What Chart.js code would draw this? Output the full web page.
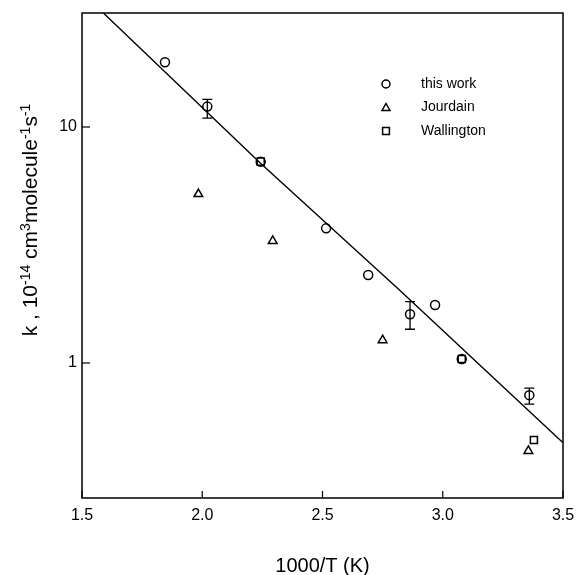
<!DOCTYPE html>
<html>
<head>
<meta charset="utf-8">
<script src="https://cdn.jsdelivr.net/npm/chart.js@4.4.1/dist/chart.umd.min.js"></script>
<style>
  body { margin: 0; background: #fff; }
  #wrap { width: 577px; height: 575px; }
</style>
</head>
<body>
<div id="wrap"><canvas id="myChart" width="577" height="575"></canvas></div>
<script>
// this work
const workX = [1.845, 2.021, 2.243, 2.515, 2.690, 2.864, 2.968, 3.079, 3.360];
const workK = [18.8, 12.2, 7.13, 3.72, 2.36, 1.61, 1.76, 1.04, 0.731];
const workLo = [null, 10.9, null, null, null, 1.39, null, null, 0.670];
const workHi = [null, 13.1, null, null, null, 1.82, null, null, 0.782];
// Jourdain
const jourX = [1.984, 2.293, 2.750, 3.356];
const jourK = [5.20, 3.29, 1.25, 0.424];
// Wallington
const wallX = [2.243, 3.079, 3.379];
const wallK = [7.13, 1.04, 0.472];
// fitted line
const fitX = [1.59, 2.24, 2.82, 3.50];
const fitK = [30.3, 7.06, 2.04, 0.459];

const xTicks = [1.5, 2.0, 2.5, 3.0, 3.5];
const yTicks = [1, 10];
const legendNames = ['this work', 'Jourdain', 'Wallington'];

const font = "'Liberation Sans', Arial, sans-serif";

function pts(xs, ys) {
    return xs.map((x, i) => ({ x: x, y: ys[i] }));
}

function marker(ctx, style, x, y, r) {
    ctx.beginPath();
    if (style == 'circle') {
        ctx.arc(x, y, r, 0, Math.PI * 2);
    } else if (style == 'triangle') {
        ctx.moveTo(x, y - r);
        ctx.lineTo(x + r, y + r * 0.75);
        ctx.lineTo(x - r, y + r * 0.75);
        ctx.closePath();
    } else {
        ctx.rect(x - r * 0.85, y - r * 0.85, r * 1.7, r * 1.7);
    }
    ctx.stroke();
}

const framePlugin = {
    id: 'frame',
    afterDatasetsDraw(chart) {
        const ctx = chart.ctx;
        const a = chart.chartArea;
        const xs = chart.scales.x;
        const ys = chart.scales.y;
        ctx.save();
        ctx.strokeStyle = '#000';
        ctx.lineWidth = 1.5;
        ctx.strokeRect(a.left, a.top, a.right - a.left, a.bottom - a.top);

        // inward tick marks
        ctx.lineWidth = 1.2;
        xTicks.forEach(v => {
            const px = xs.getPixelForValue(v);
            ctx.beginPath();
            ctx.moveTo(px, a.bottom);
            ctx.lineTo(px, a.bottom - 7);
            ctx.stroke();
        });
        yTicks.forEach(v => {
            const py = ys.getPixelForValue(v);
            ctx.beginPath();
            ctx.moveTo(a.left, py);
            ctx.lineTo(a.left + 8, py);
            ctx.stroke();
        });

        // error bars
        ctx.lineWidth = 1.3;
        workX.forEach((x, i) => {
            if (workLo[i] == null) return;
            const px = xs.getPixelForValue(x);
            const lo = ys.getPixelForValue(workLo[i]);
            const hi = ys.getPixelForValue(workHi[i]);
            ctx.beginPath();
            ctx.moveTo(px, lo);
            ctx.lineTo(px, hi);
            ctx.moveTo(px - 5, lo);
            ctx.lineTo(px + 5, lo);
            ctx.moveTo(px - 5, hi);
            ctx.lineTo(px + 5, hi);
            ctx.stroke();
        });

        // legend
        const styles = ['circle', 'triangle', 'rect'];
        ctx.font = '14px ' + font;
        ctx.fillStyle = '#000';
        ctx.textBaseline = 'middle';
        ctx.lineWidth = 1.5;
        styles.forEach((s, i) => {
            const y = 84 + i * 23.5;
            marker(ctx, s, 386, y, 4);
            ctx.fillText(legendNames[i], 421, y);
        });

        // y axis title with superscripts
        ctx.translate(30, 220);
        ctx.rotate(-Math.PI / 2);
        const parts = [
            ['k , 10', false], ['-14', true], [' cm', false], ['3', true],
            ['molecule', false], ['-1', true], ['s', false], ['-1', true]
        ];
        let w = 0;
        parts.forEach(p => {
            ctx.font = (p[1] ? '14px ' : '21px ') + font;
            w += ctx.measureText(p[0]).width;
        });
        let cx = -w / 2;
        ctx.textBaseline = 'alphabetic';
        parts.forEach(p => {
            ctx.font = (p[1] ? '14px ' : '21px ') + font;
            ctx.fillText(p[0], cx, p[1] ? 0 : 7);
            cx += ctx.measureText(p[0]).width;
        });
        ctx.restore();
    }
};

const ctx = document.getElementById('myChart');

new Chart(ctx, {
    type: 'scatter',
    data: {
        datasets: [
            {
                label: 'fit',
                type: 'line',
                data: pts(fitX, fitK),
                borderColor: '#000',
                borderWidth: 1.4,
                pointRadius: 0,
                fill: false,
                tension: 0,
            },
            {
                label: 'this work',
                data: pts(workX, workK),
                pointStyle: 'circle',
                pointRadius: 4.5,
                borderWidth: 1.5,
                borderColor: '#000',
                backgroundColor: 'rgba(0,0,0,0)',
            },
            {
                label: 'Jourdain',
                data: pts(jourX, jourK),
                pointStyle: 'triangle',
                pointRadius: 5,
                borderWidth: 1.5,
                borderColor: '#000',
                backgroundColor: 'rgba(0,0,0,0)',
            },
            {
                label: 'Wallington',
                data: pts(wallX, wallK),
                pointStyle: 'rect',
                pointRadius: 5,
                borderWidth: 1.5,
                borderColor: '#000',
                backgroundColor: 'rgba(0,0,0,0)',
            },
        ]
    },
    options: {
        responsive: false,
        animation: false,
        clip: false,
        layout: { padding: { top: 13, right: 14, left: 0, bottom: 0 } },
        plugins: {
            legend: { display: false },
            tooltip: { enabled: false },
        },
        scales: {
            x: {
                type: 'linear',
                min: 1.5,
                max: 3.5,
                grid: { display: false, drawTicks: false },
                border: { display: false },
                afterBuildTicks: s => { s.ticks = xTicks.map(v => ({ value: v })); },
                afterFit: s => { s.height = 77; s.paddingLeft = 0; s.paddingRight = 0; },
                ticks: {
                    color: '#000',
                    padding: 8,
                    font: { family: font, size: 16 },
                    callback: v => v.toFixed(1),
                },
                title: {
                    display: true,
                    text: '1000/T (K)',
                    color: '#000',
                    font: { family: font, size: 20 },
                    padding: { top: 0, bottom: -3 },
                },
            },
            y: {
                type: 'logarithmic',
                min: 0.268,
                max: 30.4,
                grid: { display: false, drawTicks: false },
                border: { display: false },
                afterBuildTicks: s => { s.ticks = yTicks.map(v => ({ value: v })); },
                afterFit: s => { s.width = 82; s.paddingTop = 0; s.paddingBottom = 0; },
                ticks: {
                    color: '#000',
                    padding: 5,
                    font: { family: font, size: 16 },
                    callback: v => String(v),
                },
            },
        },
    },
    plugins: [framePlugin],
});
</script>
</body>
</html>
